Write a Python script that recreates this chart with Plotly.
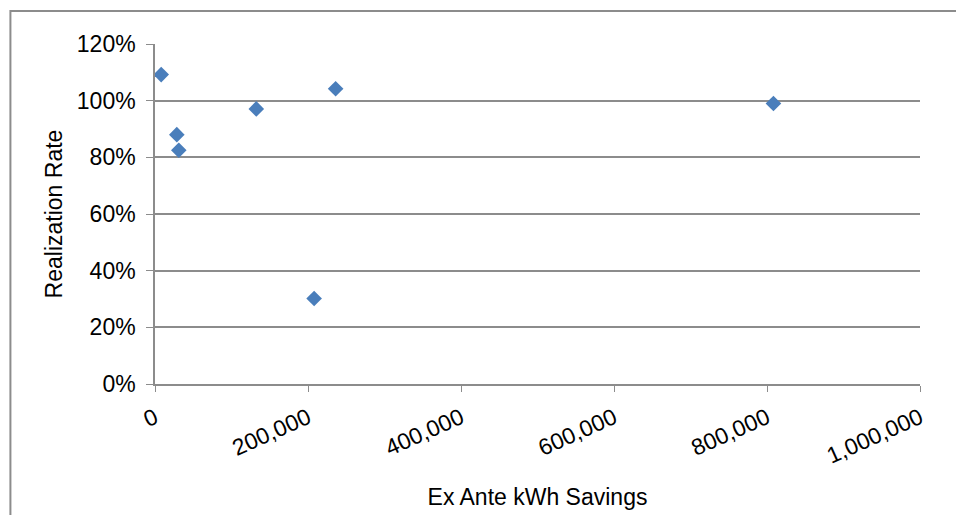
import plotly.graph_objects as go

# Ex ante savings (kWh) and realization rate for each project
ex_ante_kwh = [8100, 28500, 31100, 132400, 208000, 236100, 808400]
realization_rate = [1.092, 0.880, 0.825, 0.971, 0.302, 1.042, 0.990]

x_ticks = [0, 200000, 400000, 600000, 800000, 1000000]
y_ticks = [0, 0.2, 0.4, 0.6, 0.8, 1.0, 1.2]

FONT = "Liberation Sans, Arial, sans-serif"
GRID = "#8c8c8c"

fig = go.Figure(
    go.Scatter(
        x=ex_ante_kwh,
        y=realization_rate,
        mode="markers",
        marker=dict(symbol="diamond", size=12, color="#4a7ebb", line=dict(width=0)),
        showlegend=False,
    )
)

fig.update_layout(
    width=956,
    height=515,
    margin=dict(l=155, r=36, t=44, b=131),
    paper_bgcolor="white",
    plot_bgcolor="white",
    font=dict(family=FONT, size=23, color="black"),
    xaxis=dict(
        range=[0, 1000000],
        tickvals=x_ticks,
        tickformat=",d",
        tickangle=-24,
        showgrid=False,
        zeroline=False,
        showline=True,
        linecolor=GRID,
        linewidth=1.5,
        ticks="outside",
        ticklen=6,
        tickcolor=GRID,
        tickfont=dict(size=23),
        ticklabelstandoff=4,
        automargin=False,
        title=dict(text="Ex Ante kWh Savings", font=dict(size=23), standoff=21),
    ),
    yaxis=dict(
        range=[0, 1.2],
        tickvals=y_ticks,
        tickformat=".0%",
        showgrid=True,
        gridcolor=GRID,
        gridwidth=1.5,
        zeroline=False,
        showline=True,
        linecolor=GRID,
        linewidth=1.5,
        ticks="outside",
        ticklen=7,
        tickcolor=GRID,
        tickfont=dict(size=23),
        ticklabelstandoff=6,
        automargin=False,
        title=dict(text="Realization Rate", font=dict(size=23), standoff=8),
    ),
    shapes=[
        # chart-area frame running off the right and bottom edges
        dict(
            type="rect",
            xref="paper",
            yref="paper",
            x0=-0.189,
            x1=1.06,
            y0=-0.45,
            y1=1.097,
            line=dict(color="#8c8c8c", width=2),
            fillcolor="rgba(0,0,0,0)",
            layer="below",
        )
    ],
)

fig.write_html("out.html")
